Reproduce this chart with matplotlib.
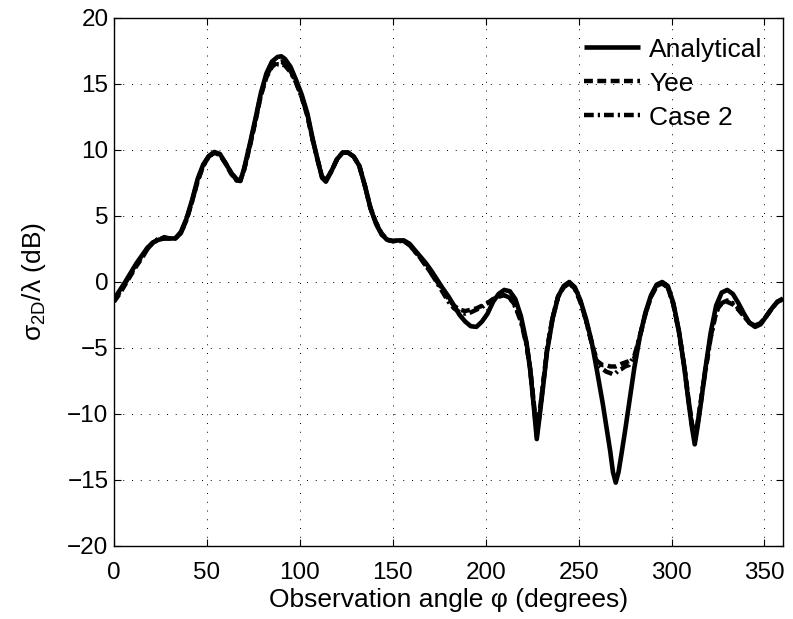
import matplotlib
matplotlib.use("Agg")
import matplotlib.pyplot as plt

plt.rcParams['font.family'] = ['Liberation Sans', 'DejaVu Sans']
plt.rcParams['mathtext.fontset'] = 'custom'
plt.rcParams['mathtext.rm'] = 'Liberation Sans'
plt.rcParams['mathtext.it'] = 'Liberation Sans:italic'

# Observation angles (degrees)
phi = [0, 3, 6, 9, 12, 15, 18, 21, 24, 27, 30, 33, 36, 39, 42, 45, 48, 51, 54, 57,
       60, 63, 66, 68, 70, 73, 76, 79, 82, 85, 88, 90, 92, 95, 98, 101, 104, 107, 110,
       112, 114, 117, 120, 123, 126, 129, 132, 135, 138, 141, 144, 147, 150, 153, 156,
       159, 162, 165, 168, 171, 174, 177, 180, 183, 186, 189, 192, 195, 198, 201, 204,
       207, 210, 213, 216, 219, 222, 224, 226, 227.5, 229, 231, 233, 236, 239, 242, 245,
       248, 251, 254, 257, 260, 263, 265, 267, 268.5, 270, 271.5, 273, 275, 277, 280,
       283, 286, 289, 292, 295, 298, 301, 304, 307, 309, 311, 312.5, 314, 316, 318, 321,
       324, 327, 330, 333, 336, 339, 342, 345, 348, 351, 354, 357, 360]

analytical = [-1.3, -0.65, 0.0, 0.7, 1.4, 2.0, 2.6, 3.0, 3.2, 3.3, 3.3, 3.3, 3.8, 4.8, 6.2, 7.8, 8.9, 9.55, 9.85, 9.7,
              9.0, 8.3, 7.7, 7.65, 8.6, 10.4, 12.3, 14.3, 15.8, 16.7, 17.05, 17.1, 16.9, 16.3, 15.3, 14.2, 12.8, 10.8, 9.0,
              7.9, 7.6, 8.4, 9.3, 9.8, 9.8, 9.5, 8.8, 7.3, 5.6, 4.4, 3.6, 3.2, 3.1, 3.15, 3.15,
              2.9, 2.4, 1.9, 1.4, 0.8, 0.15, -0.5, -1.1, -1.8, -2.5, -3.0, -3.35, -3.4, -3.0, -2.4, -1.5,
              -0.9, -0.6, -0.7, -1.3, -2.6, -4.6, -6.7, -9.6, -11.9, -10.2, -7.8, -5.3, -2.8, -1.1, -0.3, 0.0,
              -0.4, -1.4, -2.8, -4.5, -6.8, -9.2, -11.0, -12.8, -14.4, -15.2, -14.4, -13.1, -11.3, -9.4, -6.5,
              -4.1, -2.3, -1.0, -0.2, 0.0, -0.3, -1.6, -3.7, -6.6, -8.9, -11.0, -12.3, -11.0, -9.0, -6.8, -3.9,
              -1.8, -0.8, -0.6, -0.9, -1.6, -2.4, -3.1, -3.4, -3.2, -2.6, -2.0, -1.5, -1.25]

yee = [-1.5, -0.9, -0.2, 0.5, 1.2, 1.8, 2.5, 3.0, 3.2, 3.4, 3.3, 3.3, 3.7, 4.7, 6.1, 7.6, 8.8, 9.5, 9.8, 9.6,
       9.0, 8.2, 7.7, 7.7, 8.5, 10.2, 12.1, 14.1, 15.5, 16.3, 16.65, 16.7, 16.5, 16.0, 15.1, 14.0, 12.6, 10.7, 9.0,
       7.9, 7.7, 8.4, 9.3, 9.8, 9.8, 9.5, 8.8, 7.3, 5.6, 4.5, 3.7, 3.2, 3.1, 3.15, 3.1,
       2.8, 2.3, 1.8, 1.2, 0.6, 0.0, -0.6, -1.3, -1.8, -2.1, -2.2, -2.1, -2.0, -1.8, -1.6, -1.3,
       -1.1, -1.0, -1.2, -1.8, -2.9, -4.7, -6.6, -9.3, -11.3, -9.9, -7.6, -5.1, -2.7, -1.1, -0.4, -0.1,
       -0.5, -1.5, -2.9, -4.6, -6.0, -6.3, -6.3, -6.4, -6.4, -6.4, -6.3, -6.2, -6.1, -6.0, -5.8,
       -4.1, -2.4, -1.1, -0.3, -0.1, -0.4, -1.7, -3.8, -6.5, -8.7, -10.7, -11.8, -10.7, -8.8, -6.9, -4.2,
       -2.2, -1.6, -1.5, -1.7, -2.1, -2.6, -3.1, -3.3, -3.1, -2.6, -2.0, -1.5, -1.3]

case2 = [-1.4, -0.8, -0.1, 0.6, 1.3, 1.9, 2.5, 3.0, 3.3, 3.3, 3.3, 3.3, 3.7, 4.7, 6.1, 7.7, 8.8, 9.5, 9.8, 9.65,
         9.0, 8.3, 7.8, 7.7, 8.5, 10.3, 12.2, 14.2, 15.6, 16.4, 16.5, 16.5, 16.4, 15.9, 15.1, 14.0, 12.7, 10.7, 9.0,
         8.0, 7.7, 8.4, 9.3, 9.8, 9.8, 9.5, 8.8, 7.3, 5.6, 4.5, 3.6, 3.2, 3.1, 3.1, 3.1,
         2.8, 2.3, 1.8, 1.2, 0.6, -0.1, -0.8, -1.5, -2.0, -2.3, -2.4, -2.3, -2.1, -1.9, -1.6, -1.3,
         -1.1, -1.0, -1.2, -1.9, -3.0, -4.8, -6.7, -9.4, -11.6, -10.0, -7.7, -5.2, -2.7, -1.1, -0.3, -0.1,
         -0.5, -1.5, -2.9, -4.6, -6.2, -6.6, -6.8, -6.9, -7.0, -6.9, -6.7, -6.6, -6.4, -6.3, -5.6,
         -4.1, -2.4, -1.1, -0.3, -0.1, -0.4, -1.7, -3.8, -6.5, -8.8, -10.8, -12.0, -10.8, -8.9, -7.0, -4.3,
         -2.3, -1.6, -1.4, -1.6, -2.0, -2.6, -3.1, -3.3, -3.1, -2.6, -2.0, -1.5, -1.3]

labels = ["Analytical", "Yee", "Case 2"]
xticks = [0, 50, 100, 150, 200, 250, 300, 350]
yticks = [-20, -15, -10, -5, 0, 5, 10, 15, 20]

fs = 17.5
lfs = 19
fig = plt.figure(figsize=(7.93, 6.19), dpi=100)
ax = fig.add_axes([114/793, 1 - 546/619, (783 - 114)/793, (546 - 18)/619])

ax.plot(phi, analytical, color='k', lw=3.3, ls='-', label=labels[0], solid_capstyle='butt')
ax.plot(phi, yee, color='k', lw=3.2, dashes=(2.0, 1.0), label=labels[1])
ax.plot(phi, case2, color='k', lw=3.2, dashes=(2.2, 0.9, 0.5, 0.9), label=labels[2])

ax.set_xlim(0, 360)
ax.set_ylim(-20, 20)
ax.set_xticks(xticks)
ax.set_yticks(yticks)
ax.set_yticklabels(["\u2212" + str(-v) if v < 0 else str(v) for v in yticks])
ax.tick_params(direction='in', length=5, width=0.8, labelsize=fs, top=True, right=True)
ax.tick_params(axis='x', pad=11.5)
ax.tick_params(axis='y', pad=4)
ax.grid(True, color='k', lw=0.7, linestyle=(0, (1, 8)))
for s in ax.spines.values():
    s.set_linewidth(1.0)
    s.set_color('k')

ax.set_xlabel("Observation angle \u03c6 (degrees)", fontsize=lfs, labelpad=3)
ax.set_ylabel("\u03c3$_{\\mathrm{2D}}$/\u03bb (dB)", fontsize=lfs, labelpad=14)

leg = ax.legend(loc='upper right', frameon=False, fontsize=lfs, handlelength=2.1,
                handletextpad=0.35, labelspacing=0.38, borderaxespad=0.0,
                bbox_to_anchor=(0.985, 0.983))

fig.savefig("out.png", dpi=100)
